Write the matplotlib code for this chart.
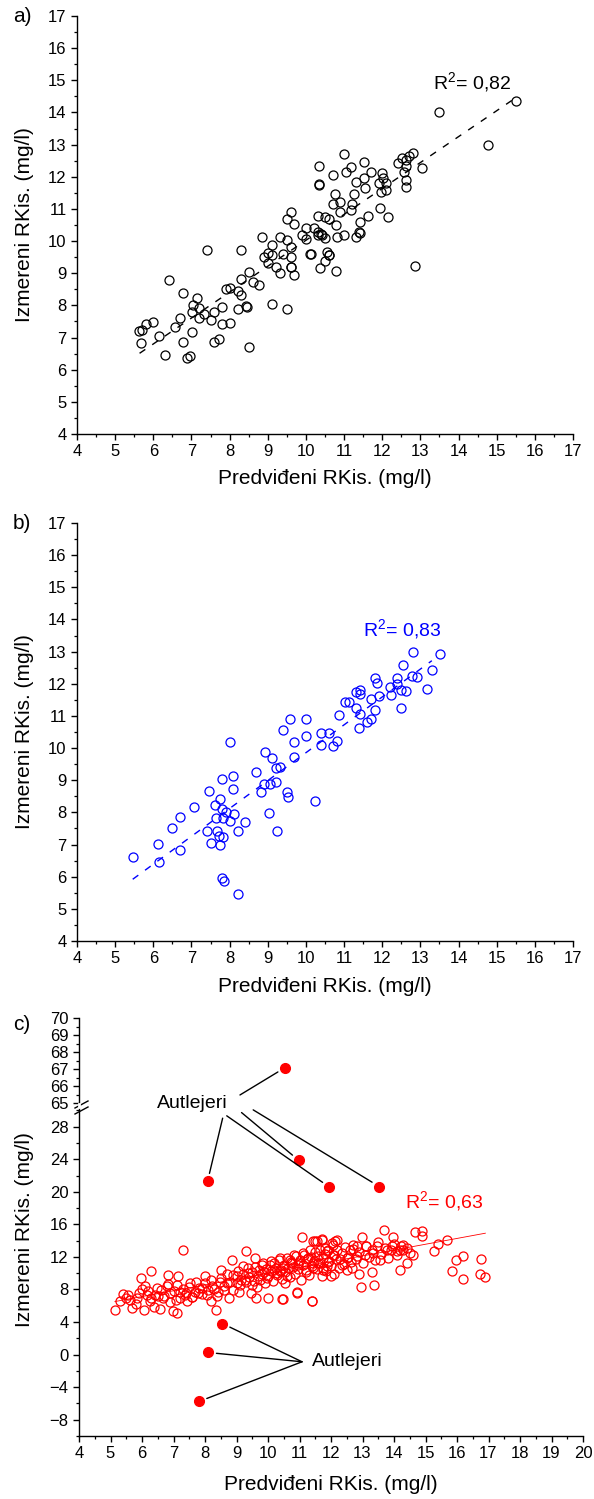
import matplotlib
matplotlib.use('Agg')
import matplotlib.pyplot as plt
from matplotlib.ticker import MultipleLocator
from matplotlib.lines import Line2D

plt.rcParams['font.family'] = ['Liberation Sans', 'DejaVu Sans']
plt.rcParams['mathtext.fontset'] = 'custom'
plt.rcParams['mathtext.rm'] = 'Liberation Sans'

W, H = 594, 1499

# ---- panel a (black) ----
a_pred = [11.01, 10.33, 10.70, 11.06, 10.33, 10.35, 10.75, 10.70, 10.90, 10.90,
          9.61, 9.50, 9.70, 10.31, 10.51, 10.61, 10.80, 10.00, 10.20, 9.90,
          10.31, 10.40, 10.51, 10.00, 10.82, 11.01, 8.85, 9.31, 9.50, 9.11,
          9.61, 9.00, 8.89, 9.11, 9.40, 9.61, 10.10, 10.55, 10.61, 9.00,
          9.21, 9.61, 9.31, 9.70, 10.51, 10.38, 10.80, 8.51, 8.30, 8.61,
          8.78, 8.30, 7.40, 6.41, 6.79, 7.90, 8.02, 8.22, 8.30, 7.14,
          7.04, 7.21, 7.01, 7.32, 7.20, 7.60, 7.81, 7.51, 8.22, 8.45,
          8.42, 9.11, 9.50, 7.81, 8.02, 6.70, 6.57, 6.00, 5.80, 5.63,
          5.71, 6.16, 7.01, 5.68, 6.79, 7.60, 7.71, 6.31, 6.95, 6.88,
          8.51, 15.50, 13.48, 14.77, 13.03, 12.81, 12.70, 12.52, 12.61, 12.41,
          12.61, 12.56, 12.61, 12.61, 11.17, 11.51, 11.71, 11.32, 11.51, 11.54,
          12.00, 12.02, 11.91, 12.11, 11.98, 12.11, 11.27, 11.21, 11.17, 11.93,
          11.63, 12.16, 11.41, 11.40, 11.32, 11.41, 12.85, 10.12, 10.60, 9.62,
          10.42, 10.31]
a_meas = [12.71, 12.34, 12.05, 12.16, 11.74, 11.76, 11.46, 11.15, 11.20, 10.91,
          10.89, 10.68, 10.53, 10.79, 10.76, 10.68, 10.50, 10.40, 10.40, 10.19,
          10.19, 10.22, 10.09, 10.05, 10.12, 10.19, 10.14, 10.14, 10.03, 9.88,
          9.81, 9.62, 9.51, 9.57, 9.60, 9.51, 9.60, 9.67, 9.56, 9.31,
          9.20, 9.18, 9.00, 8.94, 9.39, 9.15, 9.08, 9.05, 8.82, 8.74,
          8.63, 9.72, 9.72, 8.79, 8.39, 8.50, 8.53, 8.46, 8.32, 8.22,
          8.01, 7.93, 7.80, 7.72, 7.62, 7.80, 7.96, 7.54, 7.88, 7.96,
          7.98, 8.04, 7.89, 7.41, 7.46, 7.60, 7.34, 7.49, 7.41, 7.21,
          7.23, 7.06, 7.16, 6.82, 6.85, 6.85, 6.94, 6.46, 6.43, 6.35,
          6.71, 14.37, 14.02, 12.99, 12.26, 12.75, 12.65, 12.57, 12.52, 12.42,
          12.34, 12.16, 11.90, 11.69, 12.29, 12.45, 12.14, 11.85, 11.95, 11.64,
          12.13, 11.95, 11.81, 11.81, 11.53, 11.59, 11.46, 11.15, 10.97, 11.02,
          10.78, 10.74, 10.60, 10.29, 10.14, 10.24, 9.23, 9.60, 9.57, 9.18,
          10.19, 10.27]
a_fit = (0.806, 1.964)
a_fit_range = [5.64, 15.4]
a_r2 = r"$\mathrm{R}^2$= 0,82"

# ---- panel b (blue) ----
b_pred = [5.46, 6.16, 6.12, 6.69, 6.49, 6.70, 7.07, 7.46, 7.40, 7.52,
          7.67, 7.75, 7.82, 7.71, 7.65, 7.82, 8.02, 8.12, 7.91, 7.81,
          7.62, 7.75, 7.81, 8.09, 8.10, 8.00, 8.21, 8.41, 7.81, 7.84,
          8.21, 8.69, 8.82, 8.93, 9.11, 8.89, 9.07, 9.21, 9.21, 9.31,
          9.03, 9.25, 9.50, 9.52, 9.40, 9.57, 10.01, 10.01, 9.70, 9.70,
          10.24, 10.40, 10.61, 10.40, 10.71, 10.82, 10.88, 12.81, 13.51, 13.31,
          13.18, 12.55, 12.78, 12.90, 12.39, 12.39, 12.50, 12.61, 12.50, 12.20,
          12.22, 11.80, 11.87, 11.91, 11.71, 11.80, 11.30, 11.41, 11.43, 11.02,
          11.12, 11.31, 11.43, 11.71, 11.60, 11.40]
b_meas = [6.62, 6.45, 7.02, 6.83, 7.50, 7.86, 8.18, 8.66, 7.43, 7.04,
          7.43, 6.98, 7.24, 7.26, 7.83, 7.83, 7.74, 7.94, 8.00, 8.09,
          8.23, 8.41, 9.04, 9.14, 8.72, 10.18, 7.42, 7.71, 5.95, 5.86,
          5.45, 9.25, 8.64, 9.89, 9.68, 8.88, 8.88, 8.93, 9.37, 9.40,
          7.99, 7.43, 8.64, 8.47, 10.56, 10.89, 10.89, 10.38, 10.18, 9.73,
          8.36, 10.48, 10.46, 10.10, 10.07, 10.22, 11.03, 13.00, 12.92, 12.43,
          11.83, 12.58, 12.25, 12.22, 12.19, 11.98, 11.81, 11.77, 11.24, 11.89,
          11.65, 12.19, 12.03, 11.63, 11.52, 11.18, 11.75, 11.81, 11.68, 11.42,
          11.44, 11.26, 11.05, 10.89, 10.82, 10.63]
b_fit = (0.867, 1.186)
b_fit_range = [5.46, 13.3]
b_r2 = r"$\mathrm{R}^2$= 0,83"

# ---- panel c (red) ----
c_pred = [5.14, 5.41, 5.57, 5.67, 5.62, 5.83, 5.96, 6.10, 6.07, 6.15,
          6.29, 6.25, 6.38, 6.49, 6.57, 6.52, 6.68, 6.81, 6.84, 6.89,
          6.99, 7.10, 7.07, 7.13, 7.21, 7.29, 7.37, 7.42, 7.52, 7.58,
          7.68, 7.79, 7.89, 8.00, 8.05, 8.19, 8.21, 8.35, 8.37, 8.48,
          8.51, 8.61, 8.69, 8.77, 8.87, 8.90, 9.01, 9.09, 9.20, 9.27,
          9.29, 9.38, 9.48, 9.59, 9.62, 9.69, 9.80, 9.87, 10.01, 9.98,
          10.09, 10.20, 10.28, 10.38, 10.47, 10.49, 10.59, 10.72, 10.83, 10.91,
          10.96, 11.07, 11.10, 11.21, 11.33, 11.39, 11.44, 11.55, 11.60, 11.74,
          11.81, 11.92, 12.02, 12.10, 11.70, 11.44, 11.86,
          11.49, 11.70, 12.13, 12.07, 12.18, 12.97, 12.71, 12.84, 13.11, 13.68,
          13.45, 13.98, 13.93, 14.21, 14.30, 14.30, 14.59, 14.40, 14.19, 14.67,
          14.90, 14.90, 15.28, 15.39, 15.69, 15.83, 15.97, 16.20, 16.20, 16.75,
          16.73, 16.89, 13.37, 12.94, 13.29, 12.90, 12.66, 11.99, 11.76, 10.91,
          11.39, 10.46, 10.54, 10.38, 10.70, 10.96, 11.28, 11.44, 11.65, 11.86,
          12.34, 12.50, 12.81, 13.08, 13.34, 13.55, 13.77, 14.08,
          5.30, 5.50, 5.80, 5.90, 6.00, 6.20, 6.30, 6.40, 6.60, 6.70,
          6.80, 6.90, 7.00, 7.10, 7.20, 7.30, 7.40, 7.50, 7.60, 7.70,
          7.80, 7.90, 8.00, 8.10, 8.20, 8.30, 8.40, 8.50, 8.60, 8.70,
          8.80, 8.90, 9.00, 9.05, 9.10, 9.15, 9.20, 9.30, 9.35, 9.40,
          9.45, 9.50, 9.55, 9.60, 9.65, 9.70, 9.75, 9.80, 9.85, 9.90,
          9.95, 10.00, 10.05, 10.10, 10.15, 10.20, 10.25, 10.30, 10.35, 10.40,
          10.45, 10.50, 10.55, 10.60, 10.65, 10.70, 10.75, 10.80, 10.85, 10.90,
          10.95, 11.00, 11.05, 11.10, 11.15, 11.20, 11.25, 11.30, 11.35, 11.40,
          11.45, 11.50, 11.55, 11.60, 11.65, 11.70, 11.75, 11.80, 11.85, 11.90,
          11.95, 12.00, 12.05, 12.10, 12.15, 12.20, 12.25, 12.30, 12.35, 12.40,
          12.45, 12.50, 12.55, 12.60, 12.65, 12.70, 12.80, 12.90, 13.00, 13.10,
          13.20, 13.30, 13.40, 13.50, 13.60, 13.70, 13.80, 13.90, 14.00, 14.10,
          14.20, 14.40, 14.50]
c_meas = [5.42, 7.47, 7.34, 5.71, 6.65, 6.94, 9.47, 8.37, 5.50, 7.34,
          10.25, 6.53, 5.91, 8.16, 5.62, 7.14, 6.94, 8.66, 9.80, 7.55,
          5.30, 5.17, 6.65, 9.68, 7.75, 12.87, 7.34, 6.53, 8.78, 7.02,
          7.75, 7.55, 8.16, 9.60, 7.34, 6.53, 8.37, 5.50, 7.14, 8.86,
          10.42, 7.96, 8.78, 6.94, 11.64, 9.80, 8.78, 7.75, 10.91, 9.19,
          12.67, 10.01, 8.57, 11.85, 6.94, 9.60, 11.03, 10.21, 6.94, 9.39,
          11.56, 10.42, 10.01, 11.85, 6.86, 10.62, 9.60, 11.44, 12.26, 7.63,
          11.03, 14.43, 12.46, 10.42, 12.87, 6.53, 11.24, 13.90, 12.06, 10.62,
          13.08, 11.44, 13.69, 12.26, 14.18, 14.02, 12.67,
          13.90, 14.11, 13.90, 13.49, 14.11, 14.43, 13.49, 13.29, 13.29, 15.25,
          13.29, 14.43, 13.29, 13.37, 13.49, 12.88, 12.26, 11.24, 10.34, 15.05,
          15.21, 14.52, 12.67, 13.57, 14.11, 10.22, 11.57, 12.14, 9.31, 11.73,
          9.93, 9.52, 8.58, 8.29, 10.13, 9.93, 10.63, 9.68, 10.34, 7.64,
          6.53, 6.86, 8.78, 10.22, 11.65, 11.24, 11.85, 10.63, 11.24, 10.83,
          11.03, 11.85, 12.06, 12.26, 12.47, 11.65, 12.88, 12.67,
          6.6, 7.0, 6.2, 7.6, 8.1, 7.8, 6.9, 7.3, 7.9, 7.2,
          8.4, 6.5, 7.8, 8.5, 6.9, 8.0, 7.6, 8.3, 7.1, 8.9,
          8.2, 7.4, 8.8, 7.9, 9.2, 8.1, 7.7, 9.4, 8.4, 9.9,
          8.9, 7.9, 9.6, 10.3, 8.6, 9.2, 9.9, 8.9, 10.6, 9.5,
          7.6, 10.2, 9.0, 10.8, 8.3, 10.4, 9.2, 9.9, 11.2, 8.8,
          10.5, 9.7, 11.0, 10.3, 9.1, 11.3, 10.7, 9.8, 11.6, 10.4,
          9.3, 11.0, 10.1, 11.9, 10.6, 9.5, 11.3, 10.8, 9.9, 12.1,
          10.5, 11.6, 9.2, 11.0, 12.3, 10.2, 11.8, 9.8, 12.0, 10.9,
          11.5, 12.6, 10.5, 11.2, 12.8, 9.6, 11.9, 12.4, 10.3, 12.9,
          11.5, 10.9, 12.2, 9.9, 11.7, 12.9, 10.6, 11.8, 12.5, 11.1,
          13.2, 10.4, 12.0, 12.8, 11.4, 13.0, 11.8, 12.6, 11.2, 13.4,
          12.0, 12.9, 11.6, 13.8, 12.4, 13.1, 11.9, 12.8, 13.6, 12.2,
          12.9, 13.1, 12.5]
# outliers (filled)
c_out_pred = [10.54, 8.08, 10.98, 11.95, 13.53, 8.55, 8.10, 7.81]
c_out_meas = [67.08, 21.27, 23.85, 20.58, 20.65, 3.82, 0.26, -5.76]
c_fit = (0.714, 2.85)
c_fit_range = [5.14, 16.9]
c_r2 = r"$\mathrm{R}^2$= 0,63"

xlabel = "Predviđeni RKis. (mg/l)"
ylabel = "Izmereni RKis. (mg/l)"


def box(l, t, r, b):
    return [l / W, 1 - b / H, (r - l) / W, (b - t) / H]


def fx(px):
    return px / W


def fy(py):
    return 1 - py / H


def style(ax, bottom=True):
    ax.spines['top'].set_visible(False)
    ax.spines['right'].set_visible(False)
    ax.spines['left'].set_linewidth(1.0)
    ax.spines['bottom'].set_linewidth(1.0)
    if not bottom:
        ax.spines['bottom'].set_visible(False)
        ax.tick_params(axis='x', which='both', bottom=False, labelbottom=False)
    ax.tick_params(which='major', direction='out', length=4.5, width=1.0,
                   labelsize=12, pad=3)
    ax.tick_params(which='minor', direction='out', length=2.5, width=0.9)


fig = plt.figure(figsize=(W / 100, H / 100), dpi=100)

# ---------- a ----------
ax_a = fig.add_axes(box(77, 16, 573, 434))
ax_a.plot(a_pred, a_meas, 'o', mfc='none', mec='black', ms=6.5, mew=0.9, ls='none')
ax_a.plot(a_fit_range, [a_fit[0] * v + a_fit[1] for v in a_fit_range],
          color='black', lw=1.0, ls=(0, (5, 6)))
ax_a.set_xlim(4, 17)
ax_a.set_ylim(4, 17)
ax_a.xaxis.set_major_locator(MultipleLocator(1))
ax_a.xaxis.set_minor_locator(MultipleLocator(0.5))
ax_a.yaxis.set_major_locator(MultipleLocator(1))
ax_a.yaxis.set_minor_locator(MultipleLocator(0.5))
style(ax_a)
ax_a.text(13.32, 14.92, a_r2, fontsize=14, color='black', va='center')

# ---------- b ----------
ax_b = fig.add_axes(box(77, 523, 573, 941))
ax_b.plot(b_pred, b_meas, 'o', mfc='none', mec='blue', ms=6.5, mew=0.9, ls='none')
ax_b.plot(b_fit_range, [b_fit[0] * v + b_fit[1] for v in b_fit_range],
          color='blue', lw=1.0, ls=(0, (5, 6)))
ax_b.set_xlim(4, 17)
ax_b.set_ylim(4, 17)
ax_b.xaxis.set_major_locator(MultipleLocator(1))
ax_b.xaxis.set_minor_locator(MultipleLocator(0.5))
ax_b.yaxis.set_major_locator(MultipleLocator(1))
ax_b.yaxis.set_minor_locator(MultipleLocator(0.5))
style(ax_b)
ax_b.text(11.5, 13.67, b_r2, fontsize=14, color='blue', va='center')

# ---------- c (broken y axis) ----------
ax_ct = fig.add_axes(box(79, 1018, 583, 1103))
ax_cb = fig.add_axes(box(79, 1108, 583, 1436))
for ax in (ax_ct, ax_cb):
    ax.set_xlim(4, 20)
    ax.xaxis.set_major_locator(MultipleLocator(1))
    ax.xaxis.set_minor_locator(MultipleLocator(0.5))
    ax.patch.set_alpha(0)
ax_ct.set_ylim(65, 70)
ax_ct.yaxis.set_major_locator(MultipleLocator(1))
ax_ct.yaxis.set_minor_locator(MultipleLocator(0.5))
ax_cb.set_ylim(-10, 30.3)
ax_cb.yaxis.set_major_locator(MultipleLocator(4))
ax_cb.yaxis.set_minor_locator(MultipleLocator(2))
style(ax_ct, bottom=False)
style(ax_cb)

ax_cb.plot(c_pred, c_meas, 'o', mfc='none', mec='red', ms=6.5, mew=0.9, ls='none')
ax_cb.plot(c_fit_range, [c_fit[0] * v + c_fit[1] for v in c_fit_range],
           color='red', lw=0.6)
for xp, yp in zip(c_out_pred, c_out_meas):
    target = ax_ct if yp > 60 else ax_cb
    target.plot([xp], [yp], 'o', color='red', ms=7, ls='none', clip_on=False)
ax_cb.text(14.35, 18.77, c_r2, fontsize=14, color='red', va='center')

# annotations
ax_cb.text(6.48, 30.9, "Autlejeri", fontsize=14, va='center', ha='left')
ax_cb.text(11.4, -0.88, "Autlejeri", fontsize=14, va='center', ha='left')
upper_starts = [(9.11, 31.9), (8.56, 29.05), (9.16, 29.74), (8.69, 29.34), (9.53, 30.07)]
for (sx, sy), xp, yp in zip(upper_starts, c_out_pred[:5], c_out_meas[:5]):
    target = ax_ct if yp > 60 else ax_cb
    ax_cb.annotate("", xy=(xp, yp), xycoords=target.transData,
                   xytext=(sx, sy), textcoords=ax_cb.transData,
                   arrowprops=dict(arrowstyle='-', color='black', lw=1.0,
                                   shrinkA=0, shrinkB=6), annotation_clip=False)
for xp, yp in zip(c_out_pred[5:], c_out_meas[5:]):
    ax_cb.annotate("", xy=(xp, yp), xytext=(11.08, -0.88),
                   arrowprops=dict(arrowstyle='-', color='black', lw=1.0,
                                   shrinkA=0, shrinkB=6), annotation_clip=False)

# break marks on y axis
for off in (0, 6):
    fig.add_artist(Line2D([fx(75), fx(88)], [fy(1108 + off), fy(1101 + off)],
                          color='black', lw=1.0))
fig.add_artist(Line2D([fx(79), fx(79)], [fy(1104), fy(1107)], color='white', lw=2.0))

# labels
for letter, py in (("a)", 16), ("b)", 523), ("c)", 1025)):
    fig.text(fx(22), fy(py), letter, fontsize=15, ha='center', va='center')
for ytop, ybot, xl in ((16, 434, 478), (523, 941, 986)):
    fig.text(fx(25), fy((ytop + ybot) / 2), ylabel, fontsize=15, rotation=90,
             ha='center', va='center')
    fig.text(fx(325), fy(xl), xlabel, fontsize=15, ha='center', va='center')
fig.text(fx(25), fy(1230), ylabel, fontsize=15, rotation=90, ha='center', va='center')
fig.text(fx(331), fy(1485), xlabel, fontsize=15, ha='center', va='center')

fig.savefig('out.png', dpi=100)
